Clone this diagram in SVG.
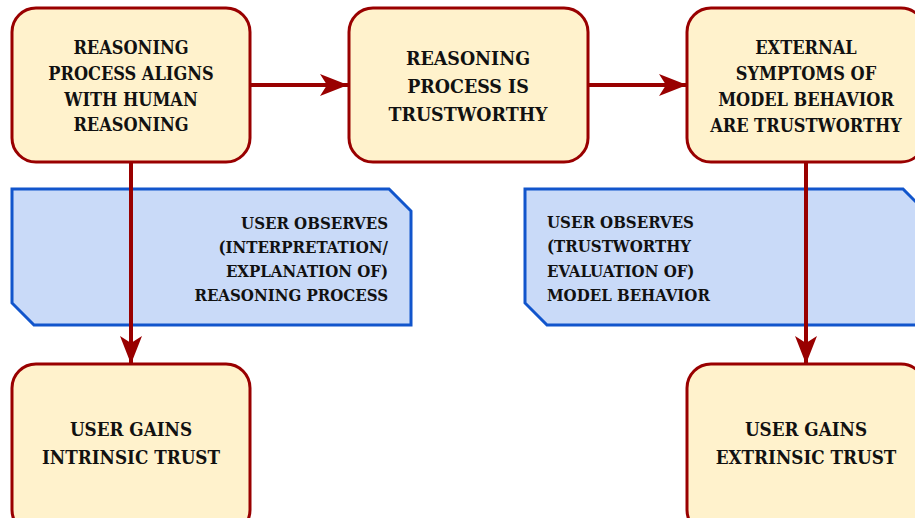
<svg xmlns="http://www.w3.org/2000/svg" width="915" height="518" viewBox="0 0 915 518">
<style>
.node{fill:#FFF2CC;stroke:#990000;stroke-width:3}
.note{fill:#C9DAF8;stroke:#1155CC;stroke-width:3;stroke-linejoin:miter}
.t{font-family:"DejaVu Serif Condensed","DejaVu Serif","Liberation Serif",serif;font-stretch:condensed;font-weight:bold;fill:#111111}
.c{text-anchor:middle}
.edge{stroke:#990000;stroke-width:4;fill:none}
</style>
<defs>
<marker id="arr" viewBox="0 0 28 22" refX="28" refY="11" markerWidth="28" markerHeight="22" markerUnits="userSpaceOnUse" orient="auto">
<path d="M0,0 L28,11 L0,22 L7,11 Z" fill="#990000"/>
</marker>
</defs>
<rect width="915" height="518" fill="#ffffff"/>
<g id="note-left">
<path class="note" d="M12,189 L389,189 L411,211 L411,325 L34,325 L12,303 Z"/>
<text class="t" font-size="16.7" text-anchor="end"><tspan x="388" y="229">USER OBSERVES</tspan><tspan x="388" y="253">(INTERPRETATION/</tspan><tspan x="388" y="277">EXPLANATION OF)</tspan><tspan x="388" y="301">REASONING PROCESS</tspan></text>
</g>
<g id="note-right">
<path class="note" d="M525,189 L903,189 L925,211 L925,325 L547,325 L525,303 Z"/>
<text class="t" font-size="16.7"><tspan x="547" y="228">USER OBSERVES</tspan><tspan x="547" y="252">(TRUSTWORTHY</tspan><tspan x="547" y="277">EVALUATION OF)</tspan><tspan x="547" y="301">MODEL BEHAVIOR</tspan></text>
</g>
<g id="connectors">
<line class="edge" x1="250" y1="85" x2="348" y2="85" marker-end="url(#arr)"/>
<line class="edge" x1="588" y1="85" x2="687" y2="85" marker-end="url(#arr)"/>
<line class="edge" x1="131" y1="162" x2="131" y2="364" marker-end="url(#arr)"/>
<line class="edge" x1="806" y1="162" x2="806" y2="364" marker-end="url(#arr)"/>
</g>
<g id="box-aligns">
<rect class="node" x="12" y="8" width="238" height="154" rx="24" ry="24"/>
<text class="t c" font-size="18"><tspan x="131" y="54">REASONING</tspan><tspan x="131" y="80">PROCESS ALIGNS</tspan><tspan x="131" y="106">WITH HUMAN</tspan><tspan x="131" y="131">REASONING</tspan></text>
</g>
<g id="box-trustworthy">
<rect class="node" x="349" y="8" width="239" height="154" rx="24" ry="24"/>
<text class="t c" font-size="19.4"><tspan x="468" y="65">REASONING</tspan><tspan x="468" y="93">PROCESS IS</tspan><tspan x="468" y="121">TRUSTWORTHY</tspan></text>
</g>
<g id="box-symptoms">
<rect class="node" x="687" y="8" width="238" height="154" rx="24" ry="24"/>
<text class="t c" font-size="18"><tspan x="806" y="54">EXTERNAL</tspan><tspan x="806" y="80">SYMPTOMS OF</tspan><tspan x="806" y="106">MODEL BEHAVIOR</tspan><tspan x="806" y="132">ARE TRUSTWORTHY</tspan></text>
</g>
<g id="box-intrinsic">
<rect class="node" x="12" y="364" width="238" height="170" rx="24" ry="24"/>
<text class="t c" font-size="18.7"><tspan x="131" y="436">USER GAINS</tspan><tspan x="131" y="464">INTRINSIC TRUST</tspan></text>
</g>
<g id="box-extrinsic">
<rect class="node" x="687" y="364" width="238" height="170" rx="24" ry="24"/>
<text class="t c" font-size="18.7"><tspan x="806" y="436">USER GAINS</tspan><tspan x="806" y="464">EXTRINSIC TRUST</tspan></text>
</g>
</svg>
